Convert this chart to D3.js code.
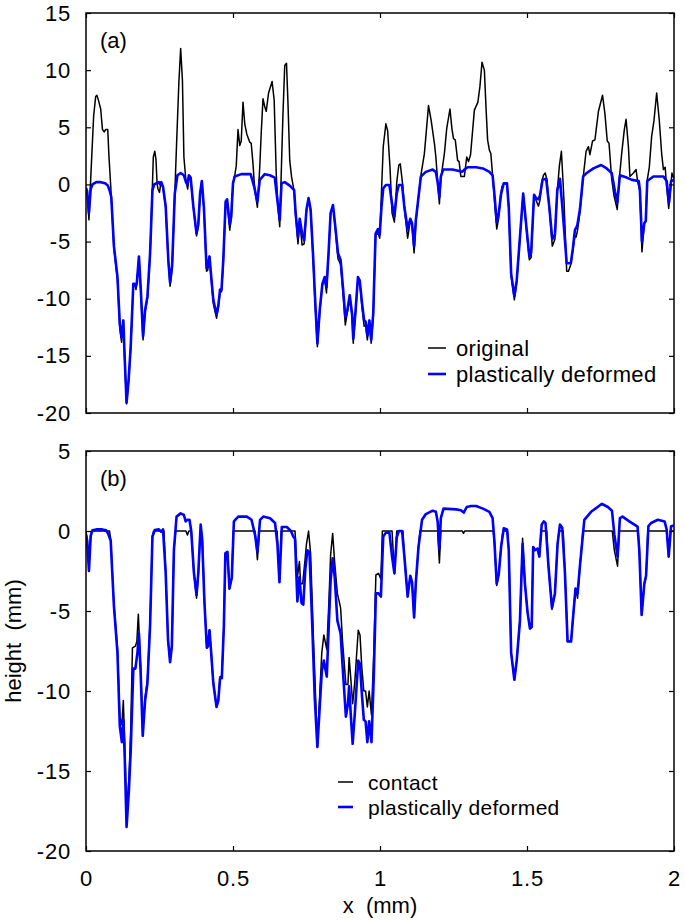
<!DOCTYPE html>
<html lang="en">
<head>
  <meta charset="UTF-8">
  <title>Surface height profiles</title>
  <style>
    html, body { margin: 0; background: #fff; }
    svg { display: block; font-family: "Liberation Sans", Arial, sans-serif; }
  </style>
</head>
<body>
  <script src="https://d3js.org/d3.v7.min.js"></script>
  <script>
    // panel (a): original profile, [x (mm), height]
    const originalA = [
      [0, -0.3], [0.004, -0.8], [0.010, -3.1], [0.016, 0.5], [0.026, 6.0], [0.033, 7.7], [0.037, 7.8], [0.042, 7.4],
      [0.050, 6.6], [0.056, 4.8], [0.062, 4.6], [0.067, 4.8], [0.074, 4.8], [0.078, 2.5], [0.084, -0.1], [0.086, -1.1],
      [0.095, -5.6], [0.107, -8.3], [0.115, -12.6], [0.121, -13.8], [0.127, -12.0], [0.131, -15.0], [0.138, -19.2],
      [0.145, -17.2], [0.152, -14.3], [0.161, -8.8], [0.166, -8.8], [0.170, -9.2], [0.173, -8.6], [0.180, -6.4],
      [0.186, -9.2], [0.194, -13.6], [0.201, -11.2], [0.209, -10.0], [0.218, -6.2], [0.226, 0.0], [0.229, 2.4],
      [0.234, 2.9], [0.238, 2.2], [0.242, 0.0], [0.245, -0.4], [0.250, -0.7], [0.255, 0.2], [0.262, -0.3],
      [0.271, -2.0], [0.280, -6.8], [0.286, -8.9], [0.293, -7.3], [0.302, -0.8], [0.308, 3.5], [0.316, 9.0],
      [0.322, 11.9], [0.328, 9.1], [0.333, 2.4], [0.340, 0.3], [0.346, -0.4], [0.350, 0.7], [0.356, 0.5],
      [0.365, -2.0], [0.376, -4.5], [0.382, -3.6], [0.388, -0.9], [0.394, 0.3], [0.401, -2.1], [0.410, -7.6],
      [0.414, -7.5], [0.420, -6.3], [0.425, -8.0], [0.433, -10.4], [0.444, -11.7], [0.450, -10.8], [0.456, -9.4],
      [0.461, -9.4], [0.467, -6.8], [0.475, -1.6], [0.480, -1.5], [0.489, -4.0], [0.494, -2.9], [0.500, 0.1],
      [0.506, 0.8], [0.511, 1.6], [0.517, 4.8], [0.523, 3.4], [0.528, 3.8], [0.534, 7.2], [0.540, 5.3], [0.547, 4.4],
      [0.557, 3.7], [0.562, 3.6], [0.568, 1.8], [0.574, -0.5], [0.583, -2.0], [0.591, 1.5], [0.596, 4.5],
      [0.602, 7.5], [0.608, 6.8], [0.613, 6.4], [0.621, 8.0], [0.633, 9.0], [0.640, 7.4], [0.647, 1.0],
      [0.653, -2.0], [0.659, -3.7], [0.665, 1.8], [0.670, 6.2], [0.676, 10.4], [0.682, 10.6], [0.687, 7.1],
      [0.693, 2.1], [0.699, 0.7], [0.708, -0.6], [0.713, -2.7], [0.721, -5.2], [0.727, -3.2], [0.735, -5.3],
      [0.742, -5.2], [0.750, -2.3], [0.757, -1.2], [0.764, -2.3], [0.772, -6.3], [0.780, -10.8], [0.787, -14.2],
      [0.795, -11.2], [0.804, -8.8], [0.812, -8.3], [0.818, -9.5], [0.825, -6.2], [0.832, -2.5], [0.840, -1.8],
      [0.848, -3.9], [0.857, -6.5], [0.866, -7.0], [0.874, -9.4], [0.882, -12.3], [0.889, -11.2], [0.897, -9.9],
      [0.905, -11.6], [0.909, -13.9], [0.917, -11.2], [0.925, -8.2], [0.931, -8.5], [0.939, -10.8], [0.946, -12.4],
      [0.951, -12.3], [0.957, -13.6], [0.964, -12.1], [0.970, -13.9], [0.977, -11.6], [0.985, -4.5], [0.993, -4.2],
      [0.999, -4.7], [1.003, -2.0], [1.011, 3.3], [1.020, 5.3], [1.026, 4.7], [1.034, 1.5], [1.041, -2.5],
      [1.049, -3.3], [1.057, 0.2], [1.064, 1.7], [1.069, 1.8], [1.077, 0.0], [1.083, -2.1], [1.094, -4.7],
      [1.103, -3.2], [1.109, -3.6], [1.116, -6.0], [1.122, -3.3], [1.131, -1.1], [1.139, 0.8], [1.151, 2.7],
      [1.165, 6.9], [1.174, 5.6], [1.185, 3.6], [1.190, 2.4], [1.196, 0.3], [1.202, -1.7], [1.207, 0.5],
      [1.219, 2.7], [1.227, 4.9], [1.238, 6.6], [1.245, 4.8], [1.250, 4.0], [1.256, 3.9], [1.264, 2.1],
      [1.269, 2.0], [1.275, 0.7], [1.287, 0.7], [1.295, 2.4], [1.301, 2.0], [1.308, 2.6], [1.321, 6.5],
      [1.333, 7.2], [1.340, 8.6], [1.347, 10.7], [1.355, 10.0], [1.361, 6.5], [1.366, 3.9], [1.372, 3.0],
      [1.377, 2.7], [1.383, 0.8], [1.389, -1.2], [1.397, -3.9], [1.404, -2.9], [1.410, -1.0], [1.415, -0.2],
      [1.421, 0.1], [1.432, 0.0], [1.438, -2.1], [1.446, -8.0], [1.457, -10.1], [1.465, -8.6], [1.476, -4.7],
      [1.487, -0.8], [1.499, -4.2], [1.508, -6.6], [1.514, -6.4], [1.524, -0.9], [1.531, -1.4], [1.539, -1.9],
      [1.544, -1.4], [1.550, 0.2], [1.556, 0.8], [1.562, 1.0], [1.568, 0.4], [1.576, -2.1], [1.586, -5.4],
      [1.595, -4.8], [1.603, -0.6], [1.610, 1.6], [1.617, 2.9], [1.621, 1.0], [1.626, -1.5], [1.635, -7.6],
      [1.641, -7.6], [1.649, -7.0], [1.656, -5.8], [1.663, -4.5], [1.667, -4.6], [1.672, -4.0], [1.680, -2.4],
      [1.691, 0.6], [1.701, 2.9], [1.709, 3.3], [1.714, 2.6], [1.723, 3.8], [1.731, 3.9], [1.743, 6.4],
      [1.757, 7.8], [1.765, 6.2], [1.773, 3.8], [1.779, 3.6], [1.788, 0.5], [1.796, -1.0], [1.807, -2.2],
      [1.814, 0.5], [1.822, 2.7], [1.831, 4.8], [1.837, 5.7], [1.845, 3.3], [1.850, 0.7], [1.862, 1.0],
      [1.871, 1.3], [1.876, 0.3], [1.884, -0.6], [1.891, -5.9], [1.899, -3.4], [1.904, -3.2], [1.909, 0.4],
      [1.916, 1.5], [1.924, 4.2], [1.932, 5.6], [1.941, 8.0], [1.950, 5.6], [1.958, 2.7], [1.964, 1.3],
      [1.970, 1.5], [1.975, -0.2], [1.982, -2.1], [1.988, -0.5], [1.993, 1.0], [2.0, 0.5]
    ];

    // panel (a): plastically deformed profile
    const deformedA = [
      [0, -0.3], [0.004, -0.6], [0.010, -2.5], [0.016, -0.4], [0.022, 0.0], [0.035, 0.2], [0.050, 0.2], [0.065, 0.1],
      [0.074, -0.1], [0.080, -0.5], [0.086, -1.1], [0.095, -5.4], [0.107, -8.1], [0.115, -12.2], [0.121, -13.4],
      [0.127, -11.9], [0.131, -14.8], [0.138, -19.1], [0.145, -17.1], [0.152, -14.2], [0.161, -8.7], [0.166, -8.7],
      [0.170, -8.9], [0.173, -8.6], [0.180, -6.3], [0.186, -9.0], [0.194, -13.3], [0.201, -11.0], [0.209, -9.8],
      [0.218, -6.0], [0.226, -0.5], [0.232, 0.0], [0.240, 0.1], [0.248, 0.2], [0.252, 0.0], [0.256, 0.2],
      [0.262, -0.2], [0.271, -1.9], [0.280, -6.6], [0.286, -8.6], [0.293, -7.1], [0.302, -0.8], [0.311, 0.8],
      [0.322, 1.0], [0.333, 0.8], [0.340, 0.2], [0.345, 0.0], [0.350, 0.8], [0.356, 0.6], [0.365, -1.9],
      [0.376, -4.3], [0.382, -3.5], [0.388, -0.8], [0.394, 0.3], [0.401, -2.0], [0.410, -7.3], [0.414, -7.2],
      [0.420, -6.3], [0.425, -7.8], [0.433, -10.1], [0.444, -11.4], [0.450, -10.6], [0.456, -9.2], [0.461, -9.2],
      [0.467, -6.6], [0.475, -1.5], [0.480, -1.3], [0.489, -3.5], [0.494, -2.8], [0.500, 0.1], [0.506, 0.7],
      [0.528, 0.9], [0.560, 0.9], [0.572, -0.2], [0.583, -1.5], [0.591, 0.4], [0.608, 0.9], [0.625, 0.8],
      [0.642, 0.6], [0.651, -1.4], [0.659, -3.1], [0.665, 0.1], [0.676, 0.2], [0.693, -0.1], [0.708, -0.5],
      [0.713, -2.5], [0.721, -4.6], [0.727, -3.0], [0.735, -4.3], [0.742, -4.9], [0.750, -2.2], [0.757, -1.2],
      [0.764, -2.2], [0.772, -6.0], [0.780, -10.4], [0.787, -13.9], [0.795, -11.0], [0.804, -8.7], [0.812, -8.1],
      [0.818, -9.0], [0.825, -6.0], [0.832, -2.5], [0.840, -1.8], [0.848, -3.7], [0.857, -6.0], [0.866, -6.6],
      [0.874, -9.0], [0.882, -11.6], [0.889, -11.0], [0.897, -9.7], [0.905, -11.3], [0.909, -13.5], [0.917, -11.0],
      [0.925, -8.1], [0.931, -8.4], [0.939, -10.4], [0.946, -11.9], [0.951, -12.0], [0.957, -13.2], [0.964, -11.9],
      [0.970, -13.6], [0.977, -11.3], [0.985, -4.3], [0.993, -3.9], [0.999, -4.4], [1.005, -2.0], [1.011, -0.35],
      [1.020, -0.05], [1.032, -0.05], [1.041, -1.7], [1.049, -2.8], [1.057, -0.8], [1.064, -0.05], [1.075, -0.05],
      [1.083, -2.0], [1.094, -3.9], [1.103, -3.0], [1.109, -3.4], [1.116, -5.4], [1.122, -3.1], [1.131, -1.1],
      [1.139, 0.7], [1.156, 1.1], [1.179, 1.3], [1.190, 1.1], [1.196, 0.2], [1.202, -1.1], [1.207, 0.7],
      [1.215, 1.3], [1.247, 1.3], [1.265, 1.2], [1.279, 1.1], [1.287, 1.3], [1.298, 1.5], [1.327, 1.5],
      [1.350, 1.4], [1.372, 1.1], [1.383, 0.8], [1.389, -0.8], [1.397, -3.3], [1.404, -2.5], [1.412, -0.8],
      [1.421, 0.1], [1.432, 0.1], [1.438, -2.0], [1.446, -7.8], [1.457, -9.8], [1.465, -8.4], [1.476, -4.6],
      [1.487, -0.8], [1.499, -4.0], [1.508, -6.3], [1.514, -6.0], [1.524, -0.9], [1.531, -1.2], [1.538, -1.3],
      [1.544, -1.0], [1.553, 0.4], [1.565, 0.5], [1.576, -2.0], [1.586, -4.8], [1.595, -4.4], [1.603, -0.5],
      [1.612, 0.5], [1.621, -2.2], [1.635, -6.9], [1.649, -6.9], [1.656, -5.6], [1.663, -4.0], [1.671, -3.6],
      [1.680, -2.2], [1.691, 0.7], [1.703, 1.0], [1.726, 1.4], [1.752, 1.7], [1.771, 1.4], [1.788, 1.0],
      [1.799, -0.6], [1.807, -1.6], [1.816, 0.8], [1.839, 0.6], [1.857, 0.4], [1.880, 0.3], [1.884, -0.5],
      [1.891, -5.0], [1.899, -3.4], [1.904, -3.2], [1.909, 0.3], [1.930, 0.7], [1.964, 0.7], [1.975, 0.3],
      [1.983, -1.6], [1.990, 0.3], [2.0, 0.4]
    ];

    // panel (b): contact profile
    const contactB = [
      [0, 0], [0.004, -0.5], [0.010, -2.3], [0.016, -0.3], [0.020, 0], [0.080, 0], [0.084, -0.5], [0.095, -4.6],
      [0.107, -7.3], [0.115, -11.6], [0.122, -12.1], [0.127, -10.6], [0.132, -13.5], [0.138, -17.4], [0.146, -15.5],
      [0.152, -12.5], [0.158, -7.3], [0.168, -7.2], [0.173, -6.9], [0.178, -5.2], [0.186, -8.5], [0.193, -12.5],
      [0.201, -10.4], [0.209, -9.3], [0.218, -5.6], [0.226, -0.3], [0.230, 0], [0.265, 0], [0.271, -2.6],
      [0.279, -6.8], [0.286, -8.2], [0.292, -7.2], [0.299, -1.2], [0.305, 0], [0.340, 0], [0.345, -0.25],
      [0.350, 0], [0.358, 0], [0.367, -2.6], [0.376, -4.2], [0.382, -2.8], [0.388, -0.3], [0.392, 0],
      [0.396, -0.6], [0.403, -4.5], [0.411, -7.3], [0.415, -7.2], [0.420, -6.2], [0.425, -7.4], [0.433, -9.5],
      [0.444, -11.0], [0.450, -10.6], [0.456, -9.1], [0.462, -9.1], [0.469, -5.9], [0.474, -1.4], [0.481, -1.3],
      [0.488, -3.6], [0.496, -2.9], [0.501, 0], [0.575, 0], [0.583, -1.8], [0.590, 0], [0.650, 0], [0.658, -3.2],
      [0.664, 0], [0.711, 0], [0.719, -2.9], [0.726, -1.9], [0.730, -3.3], [0.737, -3.3], [0.745, -1.8],
      [0.750, -0.8], [0.757, 0], [0.764, -1.4], [0.773, -6.4], [0.787, -13.4], [0.795, -10.2], [0.802, -7.6],
      [0.809, -6.5], [0.819, -7.4], [0.826, -4.5], [0.832, -1.5], [0.839, -0.15], [0.846, -2.0], [0.855, -3.9],
      [0.866, -4.8], [0.873, -7.0], [0.884, -9.6], [0.891, -9.6], [0.895, -7.9], [0.901, -9.3], [0.907, -10.8],
      [0.914, -9.5], [0.926, -6.2], [0.932, -6.5], [0.938, -8.5], [0.945, -10.0], [0.951, -10.0], [0.957, -11.0],
      [0.963, -10.0], [0.971, -11.5], [0.979, -7.5], [0.986, -2.75], [0.995, -2.65], [1.003, -3.0], [1.008, 0],
      [1.041, 0], [1.049, -2.65], [1.057, 0], [1.078, 0], [1.083, -1.6], [1.094, -4.1], [1.103, -2.8],
      [1.109, -3.2], [1.116, -5.4], [1.122, -3.2], [1.131, -0.98], [1.136, 0], [1.196, 0], [1.202, -2.0],
      [1.207, 0], [1.280, 0], [1.284, -0.15], [1.288, 0], [1.385, 0], [1.389, -0.6], [1.397, -3.4], [1.404, -2.7],
      [1.412, -0.98], [1.418, 0], [1.434, 0], [1.438, -1.2], [1.446, -7.6], [1.457, -9.3], [1.465, -8.1],
      [1.476, -5.6], [1.485, -0.45], [1.493, -3.3], [1.502, -5.1], [1.510, -6.1], [1.516, -6.0], [1.521, -1.0],
      [1.527, -1.2], [1.536, -1.1], [1.542, -1.6], [1.548, 0], [1.567, 0], [1.573, -2.2], [1.585, -4.9],
      [1.595, -3.9], [1.604, -0.8], [1.609, 0], [1.623, 0], [1.629, -2.6], [1.638, -6.9], [1.650, -6.9],
      [1.658, -5.1], [1.665, -3.6], [1.672, -4.2], [1.680, -2.2], [1.690, 0], [1.790, 0], [1.797, -1.2],
      [1.808, -2.2], [1.814, 0], [1.878, 0], [1.882, -1.2], [1.890, -5.25], [1.899, -3.3], [1.905, -2.9],
      [1.911, 0], [1.976, 0], [1.982, -1.6], [1.988, 0], [2.0, 0]
    ];

    // panel (b): plastically deformed profile
    const deformedB = [
      [0, -0.25], [0.004, -0.6], [0.010, -2.5], [0.016, -0.3], [0.022, 0.05], [0.035, 0.1], [0.055, 0.1],
      [0.068, 0.05], [0.076, -0.2], [0.084, -0.6], [0.095, -4.7], [0.107, -7.6], [0.115, -12.2], [0.122, -13.2],
      [0.127, -11.8], [0.132, -14.3], [0.138, -18.5], [0.146, -16.2], [0.152, -13.8], [0.161, -8.6], [0.168, -8.6],
      [0.175, -7.6], [0.180, -6.4], [0.186, -8.9], [0.193, -12.8], [0.201, -10.6], [0.209, -9.5], [0.218, -5.9],
      [0.226, -0.35], [0.234, 0.06], [0.248, 0.1], [0.256, -0.05], [0.262, 0.1], [0.271, -2.6], [0.279, -6.8],
      [0.286, -8.2], [0.292, -7.2], [0.299, -1.2], [0.308, 0.9], [0.322, 1.1], [0.333, 1.0], [0.339, 0.6],
      [0.345, 0.7], [0.352, 0.7], [0.358, 0.0], [0.367, -2.6], [0.376, -4.0], [0.382, -2.6], [0.390, 0.4],
      [0.395, -0.5], [0.403, -4.5], [0.411, -7.3], [0.415, -7.2], [0.420, -6.2], [0.425, -7.4], [0.433, -9.5],
      [0.444, -11.0], [0.450, -10.6], [0.456, -9.2], [0.462, -9.2], [0.469, -5.9], [0.474, -1.4], [0.481, -1.3],
      [0.488, -3.6], [0.496, -2.9], [0.503, 0.6], [0.518, 0.9], [0.547, 0.9], [0.563, 0.7], [0.575, -0.25],
      [0.583, -1.3], [0.592, 0.7], [0.603, 0.9], [0.626, 0.8], [0.643, 0.5], [0.651, -0.8], [0.658, -3.2],
      [0.666, 0.25], [0.683, 0.25], [0.697, 0.0], [0.705, -0.35], [0.711, -0.5], [0.719, -4.4], [0.726, -2.9],
      [0.733, -4.5], [0.739, -4.6], [0.746, -2.4], [0.753, -1.2], [0.760, -1.3], [0.769, -5.6], [0.778, -10.4],
      [0.787, -13.5], [0.795, -11.0], [0.802, -8.8], [0.809, -8.1], [0.819, -9.1], [0.826, -5.8], [0.832, -3.1],
      [0.839, -1.7], [0.846, -2.9], [0.855, -5.6], [0.866, -6.4], [0.873, -8.5], [0.884, -11.6], [0.891, -10.8],
      [0.895, -9.7], [0.901, -11.6], [0.907, -13.3], [0.914, -11.5], [0.926, -8.1], [0.932, -8.3], [0.938, -10.1],
      [0.945, -11.8], [0.951, -11.9], [0.957, -13.2], [0.963, -11.9], [0.971, -13.2], [0.979, -9.0], [0.986, -3.9],
      [0.995, -3.9], [1.003, -4.1], [1.011, -0.35], [1.020, -0.1], [1.032, -0.1], [1.041, -1.6], [1.049, -2.65],
      [1.057, -0.4], [1.064, 0.0], [1.075, 0.0], [1.083, -1.6], [1.094, -4.1], [1.103, -2.8], [1.109, -3.2],
      [1.116, -5.4], [1.122, -3.2], [1.131, -0.98], [1.143, 0.7], [1.156, 1.06], [1.179, 1.27], [1.190, 1.2],
      [1.196, 0.6], [1.202, -1.1], [1.207, 0.8], [1.216, 1.4], [1.259, 1.35], [1.275, 1.3], [1.285, 1.15],
      [1.295, 1.5], [1.310, 1.56], [1.327, 1.56], [1.350, 1.4], [1.372, 1.2], [1.383, 0.8], [1.389, -0.6],
      [1.397, -3.3], [1.404, -2.7], [1.412, -0.98], [1.421, 0.17], [1.432, 0.1], [1.438, -1.2], [1.446, -7.6],
      [1.457, -9.3], [1.465, -8.1], [1.476, -5.6], [1.485, -0.8], [1.493, -3.3], [1.502, -5.1], [1.510, -6.1],
      [1.516, -6.0], [1.521, -1.0], [1.527, -1.2], [1.536, -1.1], [1.542, -1.6], [1.550, 0.4], [1.557, 0.6],
      [1.563, 0.5], [1.573, -2.2], [1.585, -4.8], [1.595, -3.9], [1.604, -0.8], [1.612, 0.4], [1.620, 0.2],
      [1.629, -2.6], [1.638, -6.9], [1.650, -6.9], [1.658, -5.1], [1.665, -3.6], [1.672, -3.9], [1.680, -2.2],
      [1.695, 0.7], [1.718, 1.2], [1.755, 1.7], [1.775, 1.5], [1.789, 1.27], [1.797, -0.2], [1.808, -1.6],
      [1.816, 0.8], [1.825, 0.9], [1.848, 0.6], [1.876, 0.27], [1.882, -1.2], [1.890, -5.25], [1.899, -3.3],
      [1.905, -2.8], [1.913, 0.3], [1.922, 0.5], [1.945, 0.7], [1.968, 0.6], [1.975, 0.1], [1.982, -1.6],
      [1.990, 0.3], [2.0, 0.35]
    ];

    const xTicks = [0, 0.5, 1, 1.5, 2];
    const yTicksA = [-20, -15, -10, -5, 0, 5, 10, 15];
    const yTicksB = [-20, -15, -10, -5, 0, 5];
    const legendA = ["original", "plastically deformed"];
    const legendB = ["contact", "plastically deformed"];

    const width = 685, height = 921;
    const left = 86, right = 674;
    const fmt = d => String(d);

    const svg = d3.select("body").append("svg")
      .attr("width", width)
      .attr("height", height);

    const x = d3.scaleLinear().domain([0, 2]).range([left, right]);

    function drawPanel(p) {
      const y = d3.scaleLinear().domain(p.yDomain).range([p.bottom, p.top]);
      const g = svg.append("g");
      const clipId = "clip-" + p.tag;

      g.append("clipPath").attr("id", clipId)
        .append("rect")
        .attr("x", left).attr("y", p.top)
        .attr("width", right - left).attr("height", p.bottom - p.top);

      const line = d3.line().x(d => x(d[0])).y(d => y(d[1]));

      // black first, blue on top
      g.append("path")
        .datum(p.black)
        .attr("clip-path", `url(#${clipId})`)
        .attr("fill", "none")
        .attr("stroke", "#000")
        .attr("stroke-width", 1.5)
        .attr("stroke-linejoin", "round")
        .attr("d", line);

      g.append("path")
        .datum(p.blue)
        .attr("clip-path", `url(#${clipId})`)
        .attr("fill", "none")
        .attr("stroke", "#0000ff")
        .attr("stroke-width", 2.6)
        .attr("stroke-linejoin", "round")
        .attr("d", line);

      // axes with inward ticks
      const axL = g.append("g").attr("transform", `translate(${left},0)`)
        .call(d3.axisLeft(y).tickValues(p.yTicks).tickSize(-5).tickPadding(15).tickFormat(fmt));
      const axR = g.append("g").attr("transform", `translate(${right},0)`)
        .call(d3.axisRight(y).tickValues(p.yTicks).tickSize(-5).tickFormat(""));
      const axT = g.append("g").attr("transform", `translate(0,${p.top})`)
        .call(d3.axisTop(x).tickValues(xTicks).tickSize(-5).tickFormat(""));
      const axB = g.append("g").attr("transform", `translate(0,${p.bottom})`)
        .call(d3.axisBottom(x).tickValues(xTicks).tickSize(-5).tickPadding(19)
          .tickFormat(p.xLabels ? fmt : ""));

      [axL, axR, axT, axB].forEach(a => {
        a.attr("font-family", null).attr("font-size", null);
        a.select(".domain").remove();
        a.selectAll("line").attr("stroke", "#000").attr("stroke-width", 1.2);
        a.selectAll("text")
          .attr("fill", "#000")
          .style("font-size", "22px")
          .style("letter-spacing", "0.8px");
      });

      // frame
      g.append("rect")
        .attr("x", left).attr("y", p.top)
        .attr("width", right - left).attr("height", p.bottom - p.top)
        .attr("fill", "none")
        .attr("stroke", "#000")
        .attr("stroke-width", 1.5);

      // panel tag
      g.append("text")
        .attr("x", 100).attr("y", p.top + 35)
        .style("font-size", "22px")
        .text(`(${p.tag})`);

      // legend
      const leg = g.append("g");
      p.legend.forEach((name, i) => {
        const ly = p.legY[i];
        leg.append("line")
          .attr("x1", p.legX).attr("x2", p.legX + p.legLen)
          .attr("y1", ly).attr("y2", ly)
          .attr("stroke", i === 0 ? "#000" : "#0000ff")
          .attr("stroke-width", i === 0 ? 1.5 : 2.6);
        leg.append("text")
          .attr("x", p.legX + p.legLen + p.legGap)
          .attr("y", ly + 7.5)
          .style("font-size", p.legFont + "px")
          .style("letter-spacing", "0.3px")
          .text(name);
      });
    }

    drawPanel({
      tag: "a", top: 13, bottom: 413, yDomain: [-20, 15], yTicks: yTicksA,
      black: originalA, blue: deformedA, xLabels: false,
      legend: legendA, legX: 428, legLen: 18, legGap: 10, legY: [348, 374], legFont: 22
    });

    drawPanel({
      tag: "b", top: 451, bottom: 851, yDomain: [-20, 5], yTicks: yTicksB,
      black: contactB, blue: deformedB, xLabels: true,
      legend: legendB, legX: 338, legLen: 15, legGap: 15, legY: [782, 807], legFont: 21
    });

    // axis titles
    svg.append("text")
      .attr("x", 380).attr("y", 913)
      .attr("text-anchor", "middle")
      .style("font-size", "22px")
      .style("white-space", "pre")
      .text("x  (mm)");

    svg.append("text")
      .attr("transform", "translate(21,641) rotate(-90)")
      .attr("text-anchor", "middle")
      .style("font-size", "22px")
      .style("white-space", "pre")
      .text("height  (mm)");
  </script>
</body>
</html>
